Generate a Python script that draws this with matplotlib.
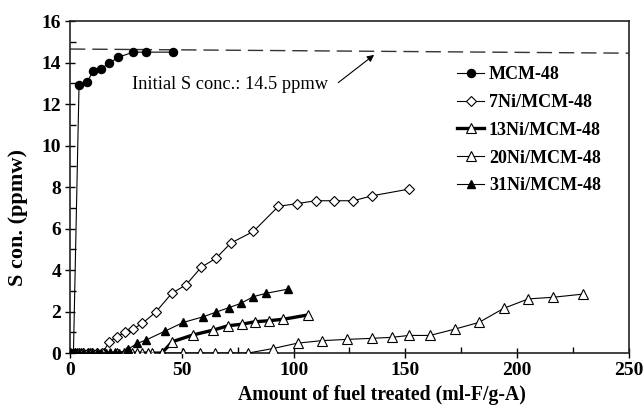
import matplotlib
matplotlib.use("Agg")
import matplotlib.pyplot as plt
from matplotlib.ticker import MultipleLocator

plt.rcParams['font.family'] = ['Liberation Serif', 'DejaVu Serif']

# Sulfur breakthrough curves (S concentration vs. amount of fuel treated)
mcm_x = [1.5, 4.0, 7.6, 10.3, 13.9, 17.4, 21.5, 28.2, 34.0, 46.1]
mcm_y = [0.0, 12.9, 13.04, 13.6, 13.7, 13.96, 14.25, 14.5, 14.5, 14.5]

ni7_x = [0, 2, 4, 6, 8, 10, 12, 14.5, 17.4, 20.9, 24.6, 28.3, 32.3, 38.3, 45.5, 51.9,
         58.7, 65.2, 71.9, 82.0, 93.2, 101.4, 109.9, 118.2, 126.7, 135.2, 151.6]
ni7_y = [0, 0, 0, 0, 0, 0, 0, 0, 0.52, 0.79, 1.0, 1.16, 1.43, 1.97, 2.88, 3.29,
         4.14, 4.56, 5.3, 5.86, 7.07, 7.2, 7.34, 7.34, 7.34, 7.58, 7.9]

ni13_x = [0, 3, 6, 9, 12, 15, 18, 21, 24, 27.6, 32.0, 36.5, 41.0, 45.8, 54.9, 64.1,
          70.8, 76.8, 82.7, 89.1, 95.4, 106.6]
ni13_y = [0, 0, 0, 0, 0, 0, 0, 0, 0, 0, 0, 0, 0, 0.55, 0.87, 1.11,
          1.32, 1.39, 1.51, 1.56, 1.63, 1.84]

ni20_x = [0, 5, 10, 15, 20, 25, 30, 35, 41, 50.6, 58.0, 65.0, 71.6, 79.6, 90.8, 101.8,
          112.8, 124.0, 134.9, 144.1, 151.6, 161.0, 172.0, 183.0, 194.1, 205.0, 216.1, 229.3]
ni20_y = [0, 0, 0, 0, 0, 0, 0, 0, 0, 0, 0, 0, 0, 0, 0.22, 0.48,
          0.6, 0.66, 0.71, 0.76, 0.85, 0.85, 1.15, 1.48, 2.16, 2.61, 2.69, 2.84]

ni31_x = [0, 2, 4, 6, 8, 10, 12, 14, 16, 18, 20, 22, 25.8, 30.1, 34.0, 42.5, 50.7,
          59.6, 65.2, 71.1, 76.5, 82.0, 87.7, 97.4]
ni31_y = [0, 0, 0, 0, 0, 0, 0, 0, 0, 0, 0, 0, 0.18, 0.47, 0.63, 1.06, 1.48,
          1.75, 1.97, 2.19, 2.4, 2.72, 2.88, 3.08]

initial_conc_x = [0, 250]
initial_conc_y = [14.65, 14.45]

x_ticks = [0, 50, 100, 150, 200, 250]
y_ticks = [0, 2, 4, 6, 8, 10, 12, 14, 16]

fig = plt.figure(figsize=(6.43, 4.12), dpi=100)
ax = fig.add_axes([0.109, 0.143, 0.869, 0.806])

ax.plot(initial_conc_x, initial_conc_y, color='#333333', lw=1.0,
        dashes=(11, 5), zorder=1)

ax.plot(mcm_x, mcm_y, '-o', color='black', lw=0.8, ms=5.8,
        mfc='black', mec='black', label='MCM-48', zorder=5)
ax.plot(ni7_x, ni7_y, '-D', color='black', lw=0.8, ms=5.2,
        mfc='white', mec='black', mew=0.8, label='7Ni/MCM-48', zorder=4)
ax.plot(ni13_x, ni13_y, '-^', color='black', lw=2.4, ms=6.8,
        mfc='white', mec='black', mew=0.8, label='13Ni/MCM-48', zorder=3)
ax.plot(ni20_x, ni20_y, '-^', color='black', lw=0.8, ms=6.8,
        mfc='white', mec='black', mew=0.8, label='20Ni/MCM-48', zorder=3)
ax.plot(ni31_x, ni31_y, '-^', color='black', lw=0.8, ms=6.2,
        mfc='black', mec='black', label='31Ni/MCM-48', zorder=4)

ax.text(27.5, 12.95, 'Initial S conc.: 14.5 ppmw', fontsize=13.2,
        va='center', ha='left')
ax.annotate('', xy=(137, 14.45), xytext=(119, 12.95),
            arrowprops=dict(arrowstyle='-|>', color='black', lw=0.8,
                            mutation_scale=10))

ax.set_xlim(0, 250)
ax.set_ylim(0, 16)
ax.set_xticks(x_ticks)
ax.set_yticks(y_ticks)
ax.xaxis.set_minor_locator(MultipleLocator(25))
ax.yaxis.set_minor_locator(MultipleLocator(1))
ax.tick_params(which='major', direction='inout', length=7, width=1.0,
               labelsize=14, pad=3)
ax.tick_params(which='minor', direction='in', length=4, width=1.0)
for lab in ax.get_xticklabels() + ax.get_yticklabels():
    lab.set_fontweight('bold')

for side in ['left', 'bottom', 'top', 'right']:
    ax.spines[side].set_linewidth(1.2)
    ax.spines[side].set_color('#222222')

ax.set_xlabel('Amount of fuel treated (ml-F/g-A)', fontsize=14.2,
              fontweight='bold')
ax.set_ylabel('S con. (ppmw)', fontsize=16, fontweight='bold')
ax.xaxis.set_label_coords(0.558, -0.095)
ax.yaxis.set_label_coords(-0.075, 0.409)

leg = ax.legend(loc='upper left', bbox_to_anchor=(0.68, 0.886), frameon=False,
                prop={'weight': 'bold', 'size': 13}, handlelength=1.5,
                handletextpad=0.25, labelspacing=0.6, borderaxespad=0)

fig.savefig('out.png', dpi=100)
